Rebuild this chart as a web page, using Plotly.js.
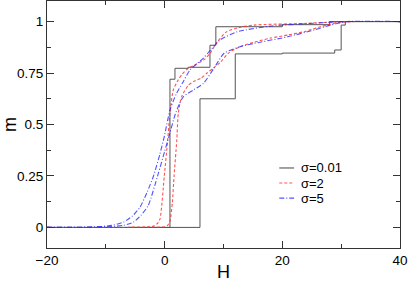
<!DOCTYPE html>
<html>
<head>
<meta charset="utf-8">
<script src="https://cdn.plot.ly/plotly-3.0.1.min.js"></script>
<style>html,body{margin:0;padding:0;background:#fff;}#plot{width:409px;height:282px;}</style>
</head>
<body>
<div id="plot"></div>
<script>
// sigma = 0.01, two branches (step curves)
const hBlackA = [-20, 0.9, 1.75, 4.0, 7.7, 8.7, 20, 28, 40];
const mBlackA = [0, 0.72, 0.773, 0.778, 0.885, 0.975, 0.985, 1.0, 1.0];
const hBlackB = [-20, 6.0, 12.0, 20, 28.9, 30.0, 30.7, 40];
const mBlackB = [0, 0.625, 0.843, 0.847, 0.862, 0.983, 1.0, 1.0];

// sigma = 2, two branches
const hRedA = [-20, -6, -2, -1.2, -0.8, -0.06, 0.5, 0.9, 1.47, 2.32, 3.0, 4.0, 5.5, 6.7, 7.7, 8.9, 10.5, 12.5, 15.2, 23.7, 30.5, 40];
const mRedA = [0, 0, 0.005, 0.02, 0.04, 0.25, 0.42, 0.555, 0.668, 0.717, 0.745, 0.773, 0.795, 0.815, 0.845, 0.90, 0.95, 0.97, 0.983, 0.991, 1.0, 1.0];
const hRedB = [-20, -6, 0, 0.5, 0.9, 1.3, 1.6, 2.05, 2.32, 2.9, 4.0, 5.0, 6.2, 7.2, 8.3, 9.4, 10.8, 12.8, 14.5, 18, 21, 23.7, 26.5, 29.3, 32, 40];
const mRedB = [0, 0, 0.003, 0.01, 0.03, 0.12, 0.25, 0.42, 0.556, 0.636, 0.69, 0.71, 0.725, 0.75, 0.775, 0.80, 0.846, 0.878, 0.894, 0.92, 0.935, 0.951, 0.975, 0.994, 1.0, 1.0];

// sigma = 5, two branches
const hBlueA = [-20, -12, -9, -7, -5.5, -4.2, -3, -1.9, -0.8, 0, 0.9, 2.0, 3.0, 4.3, 6.5, 9.4, 12.3, 18, 26.5, 30, 40];
const mBlueA = [0, 0.002, 0.01, 0.026, 0.055, 0.098, 0.17, 0.25, 0.357, 0.45, 0.57, 0.65, 0.70, 0.765, 0.82, 0.91, 0.95, 0.978, 0.994, 1.0, 1.0];
const hBlueB = [-20, -10, -7, -5.3, -4, -2.8, -1.1, 0, 0.8, 1.8, 2.5, 3.2, 4.9, 6.6, 8.3, 10.1, 12.5, 15.2, 20.9, 25.4, 28.2, 31, 40];
const mBlueB = [0, 0.003, 0.01, 0.026, 0.06, 0.106, 0.26, 0.37, 0.45, 0.55, 0.60, 0.636, 0.668, 0.70, 0.77, 0.846, 0.875, 0.894, 0.926, 0.959, 0.983, 1.0, 1.0];

const legendLabels = ['σ=0.01', 'σ=2', 'σ=5'];
const xTicks = [-20, 0, 20, 40];
const yTicks = [0, 0.25, 0.5, 0.75, 1];
const yTickText = ['0', '0.25', '0.5', '0.75', '1'];

const FONT = 'Liberation Sans, Arial, sans-serif';
const blackLine = {color: '#555', width: 1, shape: 'hv'};
const redLine = {color: 'rgba(255,40,40,0.8)', width: 1.1, dash: '3px,2px', shape: 'spline', smoothing: 0.6};
const blueLine = {color: 'rgba(40,40,255,0.8)', width: 1.1, dash: '5px,2px,1px,2px', shape: 'spline', smoothing: 0.6};

const traces = [
  {x: hBlackA, y: mBlackA, mode: 'lines', line: blackLine, name: legendLabels[0], showlegend: false},
  {x: hBlackB, y: mBlackB, mode: 'lines', line: blackLine, name: legendLabels[0], showlegend: false},
  {x: hRedA, y: mRedA, mode: 'lines', line: redLine, name: legendLabels[1], showlegend: false},
  {x: hRedB, y: mRedB, mode: 'lines', line: redLine, name: legendLabels[1], showlegend: false},
  {x: hBlueA, y: mBlueA, mode: 'lines', line: blueLine, name: legendLabels[2], showlegend: false},
  {x: hBlueB, y: mBlueB, mode: 'lines', line: blueLine, name: legendLabels[2], showlegend: false}
];

// manual legend (line samples + labels) in paper coordinates
const legendColors = ['#555', 'rgba(255,40,40,0.8)', 'rgba(40,40,255,0.8)'];
const legendDash = ['solid', '3px,2px', '5px,2px,1px,2px'];
const legX0 = 0.658, legX1 = 0.700, legTextX = 0.718;
const legY = [0.324, 0.263, 0.202];
const shapes = legendLabels.map((l, i) => ({
  type: 'line', xref: 'paper', yref: 'paper', x0: legX0, x1: legX1, y0: legY[i], y1: legY[i],
  line: {color: legendColors[i], width: 1.1, dash: legendDash[i]}
}));
const annotations = legendLabels.map((l, i) => ({
  xref: 'paper', yref: 'paper', x: legTextX, y: legY[i], xanchor: 'left', yanchor: 'middle',
  text: l, showarrow: false, borderpad: 0, font: {family: FONT, size: 13, color: '#000'}
}));

const axisCommon = {
  showline: true, linecolor: '#333', linewidth: 1, mirror: 'allticks',
  ticks: 'inside', ticklen: 7, tickcolor: '#333', tickwidth: 1,
  showgrid: false, zeroline: false,
  tickfont: {family: FONT, size: 13.5, color: '#000'}
};

const layout = {
  width: 409, height: 282,
  margin: {l: 47, r: 9, t: 1, b: 34},
  paper_bgcolor: '#fff', plot_bgcolor: '#fff',
  showlegend: false,
  xaxis: Object.assign({}, axisCommon, {
    range: [-20, 40], tickvals: xTicks,
    minor: {dtick: 10, tick0: 0, ticks: 'inside', ticklen: 4, tickcolor: '#333', showgrid: false},
    title: {text: 'H', font: {family: FONT, size: 18, color: '#000'}, standoff: 6}
  }),
  yaxis: Object.assign({}, axisCommon, {
    range: [-0.1, 1.1], tickvals: yTicks, ticktext: yTickText,
    minor: {dtick: 0.125, tick0: 0, ticks: 'inside', ticklen: 4, tickcolor: '#333', showgrid: false},
    title: {text: 'm', font: {family: FONT, size: 18, color: '#000'}, standoff: 9}
  }),
  shapes: shapes,
  annotations: annotations
};

Plotly.newPlot('plot', traces, layout, {staticPlot: true, displayModeBar: false});
</script>
</body>
</html>
